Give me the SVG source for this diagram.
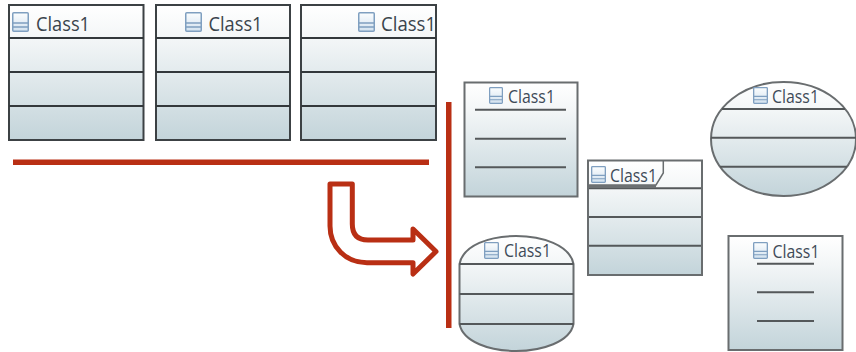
<svg xmlns="http://www.w3.org/2000/svg" width="856" height="352" viewBox="0 0 856 352">
<style>
.dark{fill:url(#body);stroke:#3c4144;stroke-width:2}
.dl{stroke:#33383b;stroke-width:2;fill:none}
.soft{fill:url(#body);stroke:#696d6f;stroke-width:2}
.sl{stroke:#54585a;stroke-width:2;fill:none}
.tl{font-family:"Open Sans","Liberation Sans",sans-serif;font-size:20.500px;fill:#3a444c}
.ts{font-family:"Open Sans","Liberation Sans",sans-serif;font-size:17.500px;fill:#3f4b58}
.red{fill:#b92f14;stroke:none}
</style>
<defs>
<linearGradient id="body" x1="0" y1="0" x2="0" y2="1">
<stop offset="0" stop-color="#ffffff"/>
<stop offset="0.25" stop-color="#f3f6f7"/>
<stop offset="1" stop-color="#c3d4da"/>
</linearGradient>
<linearGradient id="ic" x1="0" y1="0" x2="0" y2="1">
<stop offset="0" stop-color="#fbfdfe"/>
<stop offset="1" stop-color="#d3e2ef"/>
</linearGradient>
<symbol id="icon" viewBox="0 0 17 20" preserveAspectRatio="none" overflow="visible">
<rect x="0.750" y="0.750" width="15.500" height="18.500" rx="1" fill="url(#ic)" stroke="#7f9fc0" stroke-width="1.500"/>
<path d="M1 11H16M1 15H16" stroke="#7f9fc0" stroke-width="1.300" fill="none"/>
</symbol>
</defs>
<g id="node-top-left">
<rect class="dark" x="9" y="5" width="134.500" height="135"/>
<path class="dl" d="M9 38H143.500M9 72H143.500M9 106H143.500"/>
<use href="#icon" x="12" y="12" width="17" height="20"/>
<text class="tl" x="36" y="30.500" textLength="54" lengthAdjust="spacingAndGlyphs">Class1</text>
</g>
<g id="node-top-center">
<rect class="dark" x="156" y="5" width="134" height="135"/>
<path class="dl" d="M156 38H290M156 72H290M156 106H290"/>
<use href="#icon" x="185" y="12" width="17" height="20"/>
<text class="tl" x="208.500" y="30.500" textLength="54" lengthAdjust="spacingAndGlyphs">Class1</text>
</g>
<g id="node-top-right">
<rect class="dark" x="301" y="5" width="135" height="135"/>
<path class="dl" d="M301 38H436M301 72H436M301 106H436"/>
<use href="#icon" x="358" y="12" width="17" height="20"/>
<text class="tl" x="381" y="30.500" textLength="55" lengthAdjust="spacingAndGlyphs">Class1</text>
</g>
<g id="connectors">
<rect class="red" x="13" y="159.500" width="416" height="5.500"/>
<rect class="red" x="446" y="102" width="5.500" height="226"/>
<path d="M330 184H352.300V224C352.300 235 358 240 368 240H413V229L436 251.500L413 274V262.700H367C346 262.700 330 247 330 226Z" fill="#fff" stroke="#b92f14" stroke-width="5" stroke-linejoin="round"/>
</g>
<g id="node-rect-inner">
<rect class="soft" x="464.500" y="82.500" width="113" height="114"/>
<path class="sl" d="M475 109.700H566M475 138.700H566M475 167.300H566"/>
<use href="#icon" x="489" y="87" width="14" height="17"/>
<text class="ts" x="508" y="102.800" textLength="47" lengthAdjust="spacingAndGlyphs">Class1</text>
</g>
<g id="node-tab">
<rect class="soft" x="588" y="160.500" width="114" height="114.500"/>
<path class="sl" d="M589 188.300H701M589 217H701M589 245.700H701"/>
<path d="M589 185H656L663.300 173V161" fill="none" stroke="#696d6f" stroke-width="1.500"/>
<rect x="589" y="185" width="67" height="3" fill="#6c7072"/>
<use href="#icon" x="591" y="166" width="15" height="17"/>
<text class="ts" x="610" y="181.500" textLength="47" lengthAdjust="spacingAndGlyphs">Class1</text>
</g>
<g id="node-ellipse">
<ellipse class="soft" cx="783.500" cy="139" rx="72.500" ry="57"/>
<path class="sl" d="M722 109H845M711 137.700H856M720 166.700H847"/>
<use href="#icon" x="753" y="87" width="15" height="17"/>
<text class="ts" x="772" y="102.600" textLength="47" lengthAdjust="spacingAndGlyphs">Class1</text>
</g>
<g id="node-barrel">
<path class="soft" d="M459.500 264C463 245 490 236 516 236C542 236 570 245 573.500 264V324C570 342 542 351 516 351C490 351 463 342 459.500 324Z"/>
<path class="sl" d="M459.500 264H573.500M459.500 294H573.500M459.500 324H573.500"/>
<use href="#icon" x="484" y="242" width="15" height="17"/>
<text class="ts" x="504" y="257.200" textLength="47" lengthAdjust="spacingAndGlyphs">Class1</text>
</g>
<g id="node-rect-lower">
<rect class="soft" x="728.500" y="236" width="114" height="114"/>
<path class="sl" d="M757 263.700H814M757 292.300H814M757 321H814"/>
<use href="#icon" x="753" y="242" width="15" height="17"/>
<text class="ts" x="772.500" y="257.500" textLength="47" lengthAdjust="spacingAndGlyphs">Class1</text>
</g>
</svg>
